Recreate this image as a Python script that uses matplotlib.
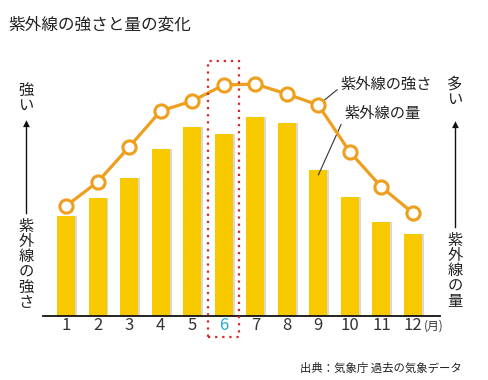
import matplotlib.pyplot as plt
from matplotlib.patches import Rectangle
import matplotlib.transforms as mtransforms

plt.rcParams['font.family'] = ['Noto Sans CJK JP', 'DejaVu Sans']

# data (relative units)
months = [1, 2, 3, 4, 5, 6, 7, 8, 9, 10, 11, 12]
month_labels = [str(m) for m in months]
uv_amount = [100, 118, 138, 167, 189, 182, 199, 193, 146, 119, 94, 82]
uv_strength = [110, 134, 169, 205, 215, 231, 232, 222, 211, 164, 129, 103]
highlight_month = 6

bar_color = '#F9C900'
line_color = '#EF9F1E'
text_color = '#222222'

fig = plt.figure(figsize=(4.88, 3.8), dpi=100)
ax = fig.add_axes([0.0881, 0.1684, 0.8135, 0.6737])

# bars with a faint shadow on the right
ax.bar([m + 0.06 for m in months], uv_amount, width=0.57, color='#D8D8D8', zorder=1)
ax.bar(months, uv_amount, width=0.57, color=bar_color, zorder=2)

# strength line
ax.plot(months, uv_strength, color=line_color, lw=2.3, marker='o', ms=9.5,
        mfc='white', mec=line_color, mew=2.2, zorder=4)

ax.set_xlim(0.27, 12.857)
ax.set_ylim(0, 256)
for s in ['top', 'right', 'left']:
    ax.spines[s].set_visible(False)
ax.spines['bottom'].set_linewidth(1.3)
ax.spines['bottom'].set_color('#111111')
ax.set_yticks([])
ax.set_xticks(months)
ax.set_xticklabels(month_labels, fontsize=12, color='#333333')
ax.tick_params(axis='x', length=0, pad=1)
ax.get_xticklabels()[months.index(highlight_month)].set_color('#2AA9CF')

# (月) after 12
ax.annotate('(月)', xy=(months[-1], 0), xytext=(8, -7.5), textcoords='offset points',
            fontsize=8.5, color='#333333', ha='left', va='center', annotation_clip=False)

# dotted highlight box around June
trans = mtransforms.blended_transform_factory(ax.transData, ax.transAxes)
ax.add_patch(Rectangle((highlight_month - 0.49, -0.083), 0.98, 1.08, transform=trans,
                       fill=False, ec='#D8262B', lw=1.6, ls=(0, (1, 2.2)),
                       clip_on=False, zorder=5))

# series labels with leader lines
ax.annotate('紫外線の強さ', xy=(months[8], uv_strength[8]), xytext=(340, 380 - 84),
            textcoords='figure pixels', fontsize=11, color=text_color, va='center',
            arrowprops=dict(arrowstyle='-', color='#333333', lw=0.8, shrinkA=0, shrinkB=3,
                            relpos=(0, 0.3)))
ax.annotate('紫外線の量', xy=(months[8], uv_amount[8] - 5), xytext=(344, 380 - 113),
            textcoords='figure pixels', fontsize=11, color=text_color, va='center',
            arrowprops=dict(arrowstyle='-', color='#333333', lw=0.8, shrinkA=0, shrinkB=0,
                            relpos=(0, 0.2)))

# title and source
fig.text(8 / 488, 1 - 25 / 380, '紫外線の強さと量の変化', fontsize=12, color=text_color,
         va='center', ha='left')
fig.text(462 / 488, 1 - 368 / 380, '出典：気象庁 過去の気象データ', fontsize=8.2,
         color=text_color, va='center', ha='right')

# side axis captions (vertical writing)
def vtext(x, y, s, **kw):
    fig.text(x / 488, 1 - y / 380, '\n'.join(s), ha='center', va='top',
             linespacing=0.86, fontsize=11, color=text_color, **kw)

vtext(26, 82, '強い')
vtext(26, 218, '紫外線の強さ')
vtext(455, 76, '多い')
vtext(455, 232, '紫外線の量')

for x, y0, y1 in [(26, 213, 120), (455, 227, 121)]:
    fig.add_artist(plt.Line2D([x / 488, x / 488], [1 - y0 / 380, 1 - (y1 + 6) / 380],
                              color='#111111', lw=1.0))
    fig.text(x / 488, 1 - (y1 + 3) / 380, '▲', ha='center', va='center',
             fontsize=6.5, color='#111111', family=['DejaVu Sans'])

fig.savefig('out.png', dpi=100)
